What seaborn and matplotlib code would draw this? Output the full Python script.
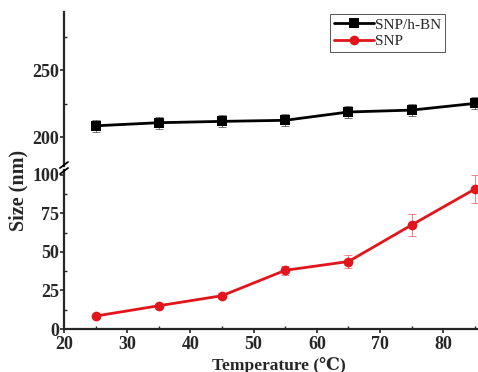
import numpy as np
import pandas as pd
import matplotlib
matplotlib.use("Agg")
import matplotlib.pyplot as plt
import seaborn as sns

# Data
temperature = [25, 35, 45, 55, 65, 75, 85]
size_snp_hbn = [208.4, 210.7, 211.7, 212.5, 218.7, 220.1, 225.1]
err_snp_hbn = [4.5, 4.5, 4.5, 4.5, 4.5, 4.5, 4.5]
size_snp = [8.4, 15.1, 21.6, 38.1, 43.8, 67.5, 90.8]
err_snp = [1.0, 1.0, 1.5, 3.0, 4.0, 7.0, 9.0]

x_ticks = [20, 30, 40, 50, 60, 70, 80]
upper_ticks = [200, 250]
lower_ticks = [0, 25, 50, 75, 100]

sns.set_style("ticks")
plt.rcParams['font.family'] = ['Liberation Serif', 'DejaVu Serif']

df = pd.DataFrame({
    'Temperature': temperature * 2,
    'Size': size_snp_hbn + size_snp,
    'Err': err_snp_hbn + err_snp,
    'Sample': ['SNP/h-BN'] * 7 + ['SNP'] * 7,
})
palette = {'SNP/h-BN': 'black', 'SNP': '#e0161c'}
markers = {'SNP/h-BN': 's', 'SNP': 'o'}

W, H = 478, 372
fig = plt.figure(figsize=(W / 100, H / 100), dpi=100)
left = 64 / W
width = 1 - left
ax_up = fig.add_axes([left, 1 - 166 / H, width, (166 - 12) / H])
ax_lo = fig.add_axes([left, 1 - 329 / H, width, (329 - 170) / H])

xlim = (20, 85.5)
for ax, lim, ticks, minor in [(ax_up, (178.4, 293.3), upper_ticks, [225, 275]),
                              (ax_lo, (0, 103.2), lower_ticks, [12.5, 37.5, 62.5, 87.5])]:
    for name, sub in df.groupby('Sample', sort=False):
        ax.errorbar(sub['Temperature'], sub['Size'], yerr=sub['Err'], fmt='none',
                    ecolor=palette[name], elinewidth=0.6, capsize=3, capthick=0.6, alpha=0.6)
    sns.lineplot(data=df, x='Temperature', y='Size', hue='Sample', style='Sample',
                 palette=palette, markers=markers, dashes=False, ax=ax,
                 linewidth=2, markersize=7, markeredgewidth=0, legend=(ax is ax_up))
    ax.set_xlim(*xlim)
    ax.set_ylim(*lim)
    ax.set_yticks(ticks)
    ax.set_yticks(minor, minor=True)
    ax.set_xticks(x_ticks)
    ax.set_xticks([25, 35, 45, 55, 65, 75, 85], minor=True)
    ax.spines['right'].set_visible(False)
    ax.spines['top'].set_visible(False)
    for s in ['left', 'bottom']:
        ax.spines[s].set_linewidth(1.6)
    ax.tick_params(axis='both', which='major', direction='out', length=3, width=1.2,
                   labelsize=13)
    ax.tick_params(axis='both', which='minor', direction='in', length=2.5, width=1)
    for lab in ax.get_yticklabels() + ax.get_xticklabels():
        lab.set_fontweight('bold')
    ax.set_ylabel('')
    ax.set_xlabel('')

ax_up.spines['bottom'].set_visible(False)
ax_up.tick_params(axis='x', which='both', bottom=False, labelbottom=False)
ax_lo.tick_params(axis='y', pad=0.5)
ax_up.tick_params(axis='y', pad=0.5)
ax_lo.tick_params(axis='x', pad=2)

# break marks on the y axis
for yy in (165, 171):
    fig.add_artist(plt.Line2D([(left * W - 4) / W, (left * W + 4) / W],
                              [1 - (yy + 3) / H, 1 - (yy - 3) / H],
                              color='black', lw=1.3))

fig.text(279 / W, 1 - 365 / H, 'Temperature (\u2103)', ha='center', va='center',
         fontsize=12.5, fontweight='bold')
fig.text(18 / W, 1 - 190 / H, 'Size (nm)', rotation=90, ha='center', va='center',
         fontsize=14.5, fontweight='bold')

handles, labels = ax_up.get_legend_handles_labels()
ax_up.legend(handles, labels, loc='upper left', bbox_to_anchor=(330 / W, 1 - 14 / H),
             bbox_transform=fig.transFigure, frameon=True, fancybox=False,
             edgecolor='#555555', framealpha=1, fontsize=11, handlelength=2.6,
             handletextpad=0.1, borderpad=0.25, labelspacing=0.2, borderaxespad=0)
ax_up.get_legend().get_frame().set_linewidth(0.7)

fig.savefig('out.png', dpi=100)
